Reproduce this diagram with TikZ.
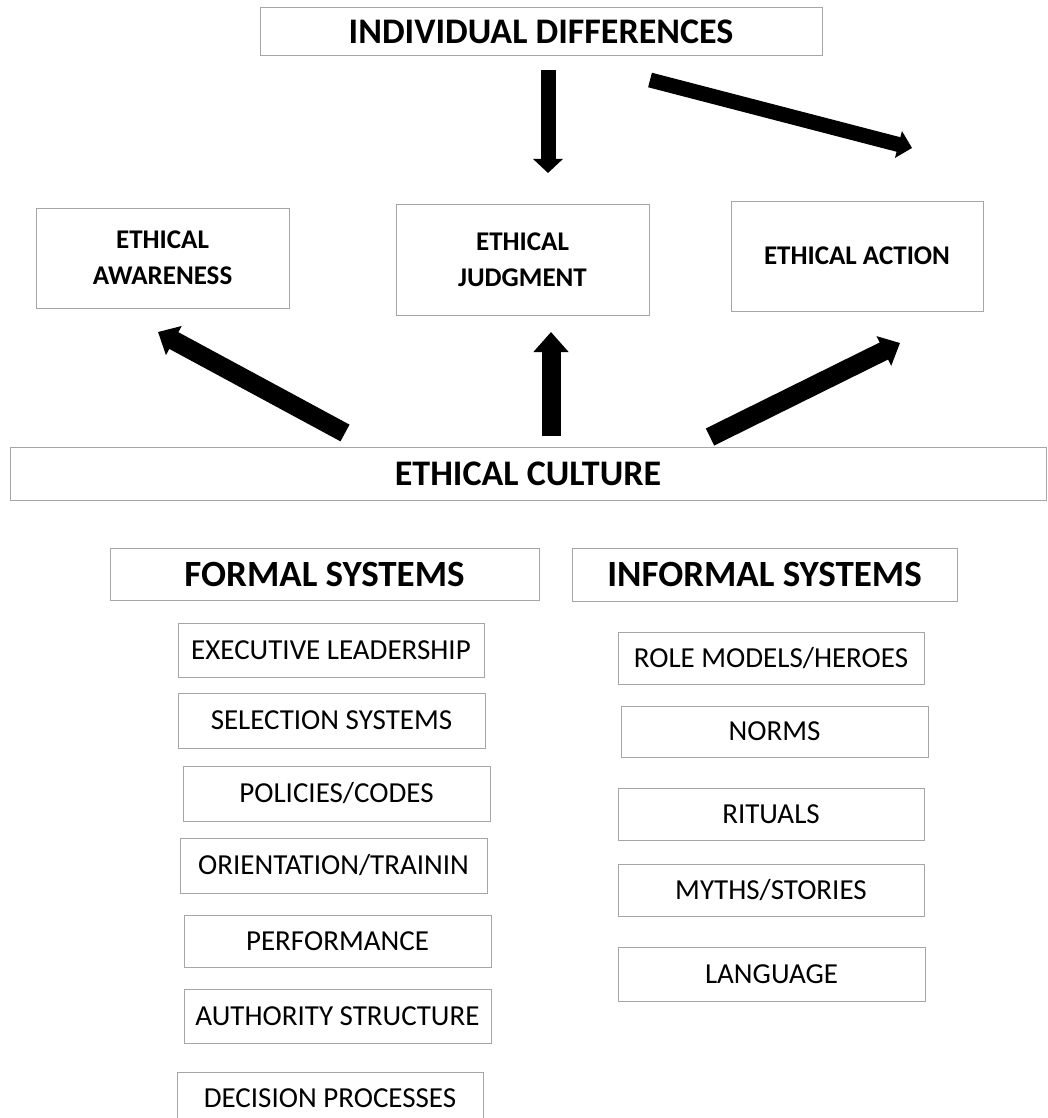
\documentclass[tikz,border=0pt]{standalone}
\usepackage{fontspec}
\setmainfont{Carlito}
\usetikzlibrary{arrows.meta}
\tikzset{
  box/.style={draw=black!35, line width=1pt, fill=white, align=center, inner sep=0pt},
  headbig/.style={box, font=\fontsize{36}{40}\selectfont\bfseries},
  headmid/.style={box, font=\fontsize{37}{40}\selectfont\bfseries},
  stage/.style={box, font=\fontsize{27}{36}\selectfont\bfseries},
  item/.style={box, font=\fontsize{29}{32}\selectfont},
}
\begin{document}
\begin{tikzpicture}[x=1pt, y=-1pt]
\useasboundingbox (0,0) rectangle (1047,1118);
\clip (0,0) rectangle (1047,1118);
\fill[white] (0,0) rectangle (1047,1118);

\node[headbig, minimum width=562pt, minimum height=48pt] (id) at (541,32) {INDIVIDUAL DIFFERENCES};

\node[stage, minimum width=253pt, minimum height=100pt] (aw) at (162.5,258) {ETHICAL\\AWARENESS};
\node[stage, minimum width=253pt, minimum height=111pt] (ju) at (522.5,259.5) {ETHICAL\\JUDGMENT};
\node[stage, minimum width=252pt, minimum height=110pt] (ac) at (857,256) {ETHICAL ACTION};

\node[headbig, minimum width=1036pt, minimum height=53pt] (ec) at (528,473.5) {ETHICAL CULTURE};

\node[headmid, minimum width=429pt, minimum height=52pt] (fs) at (324.5,574) {FORMAL SYSTEMS};
\node[headmid, minimum width=385pt, minimum height=53pt] (is) at (764.5,574.5) {INFORMAL SYSTEMS};

\node[item, minimum width=306pt, minimum height=54pt] (f1) at (331,650) {EXECUTIVE LEADERSHIP};
\node[item, minimum width=307pt, minimum height=55pt] (f2) at (331.5,720.5) {SELECTION SYSTEMS};
\node[item, minimum width=307pt, minimum height=55pt] (f3) at (336.5,793.5) {POLICIES/CODES};
\node[item, minimum width=307pt, minimum height=55pt] (f4) at (333.5,865.5) {ORIENTATION/TRAININ};
\node[item, minimum width=307pt, minimum height=52pt] (f5) at (337.5,941) {PERFORMANCE};
\node[item, minimum width=307pt, minimum height=54pt] (f6) at (337.5,1016) {AUTHORITY STRUCTURE};
\node[item, minimum width=306pt, minimum height=53pt] (f7) at (330,1098.5) {DECISION PROCESSES};

\node[item, minimum width=306pt, minimum height=52pt] (i1) at (771,658) {ROLE MODELS/HEROES};
\node[item, minimum width=307pt, minimum height=51pt] (i2) at (774.5,731.5) {NORMS};
\node[item, minimum width=306pt, minimum height=52pt] (i3) at (771,814) {RITUALS};
\node[item, minimum width=306pt, minimum height=52pt] (i4) at (771,890) {MYTHS/STORIES};
\node[item, minimum width=307pt, minimum height=54pt] (i5) at (771.5,974) {LANGUAGE};

% arrow end points
\coordinate (a1s) at (548,70);
\coordinate (a1e) at (548,173);
\coordinate (a2s) at (650,80);
\coordinate (a2e) at (912,148);
\coordinate (a3s) at (345,433);
\coordinate (a3e) at (158,332);
\coordinate (a4s) at (551,436);
\coordinate (a4e) at (551,332);
\coordinate (a5s) at (710,437);
\coordinate (a5e) at (900,343);

\draw[line width=15pt, line cap=butt, -{Triangle[length=14pt, width=29pt]}] (a1s) -- (a1e);
\draw[line width=15pt, line cap=butt, -{Triangle[length=14pt, width=27pt]}] (a2s) -- (a2e);
\draw[line width=19pt, line cap=butt, -{Triangle[length=18pt, width=32pt]}] (a3s) -- (a3e);
\draw[line width=19pt, line cap=butt, -{Triangle[length=20pt, width=34pt]}] (a4s) -- (a4e);
\draw[line width=19pt, line cap=butt, -{Triangle[length=18pt, width=32pt]}] (a5s) -- (a5e);
\end{tikzpicture}
\end{document}
